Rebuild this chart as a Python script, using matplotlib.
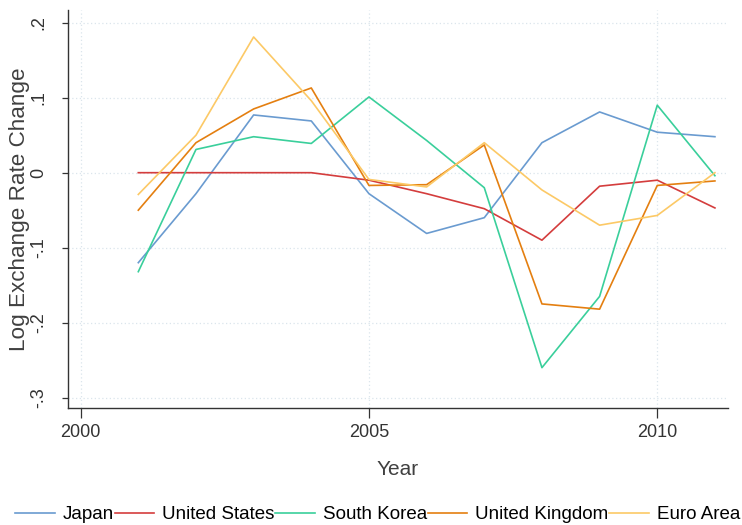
import matplotlib.pyplot as plt

plt.rcParams['font.family'] = ['Liberation Sans', 'DejaVu Sans']

years = list(range(2001, 2012))

japan = [-0.120, -0.028, 0.077, 0.069, -0.028, -0.081, -0.060, 0.040, 0.081, 0.054, 0.048]
united_states = [0.000, 0.000, 0.000, 0.000, -0.010, -0.028, -0.048, -0.090, -0.018, -0.010, -0.047]
south_korea = [-0.132, 0.031, 0.048, 0.039, 0.101, 0.043, -0.020, -0.260, -0.165, 0.090, -0.004]
united_kingdom = [-0.050, 0.040, 0.085, 0.113, -0.017, -0.016, 0.037, -0.175, -0.182, -0.017, -0.011]
euro_area = [-0.029, 0.050, 0.181, 0.096, -0.009, -0.019, 0.040, -0.023, -0.070, -0.057, 0.000]

series = [
    ('Japan', japan, '#6a9bd0'),
    ('United States', united_states, '#d43d3d'),
    ('South Korea', south_korea, '#3acf9b'),
    ('United Kingdom', united_kingdom, '#e47f10'),
    ('Euro Area', euro_area, '#fcc966'),
]

x_ticks = [2000, 2005, 2010]
y_ticks = [-0.3, -0.2, -0.1, 0, 0.1, 0.2]
y_tick_labels = ['-.3', '-.2', '-.1', '0', '.1', '.2']

fig = plt.figure(figsize=(7.42, 5.25), dpi=100)
ax = fig.add_axes([0.0916, 0.222, 0.889, 0.759])

for name, vals, color in series:
    ax.plot(years, vals, color=color, lw=1.2, label=name)

ax.set_xlim(1999.78, 2011.22)
ax.set_ylim(-0.3144, 0.217)

ax.set_xticks(x_ticks)
ax.set_yticks(y_ticks)
ax.set_yticklabels(y_tick_labels, rotation=90, va='center')

# light dotted grid at every major tick
grid_col = '#dbe5ec'
for yv in y_ticks:
    ax.axhline(yv, color=grid_col, lw=0.9, ls=(0, (1, 2)), zorder=0)
for xv in x_ticks:
    ax.axvline(xv, color=grid_col, lw=0.9, ls=(0, (1, 2)), zorder=0)

for s in ['top', 'right']:
    ax.spines[s].set_visible(False)
for s in ['left', 'bottom']:
    ax.spines[s].set_color('#333333')
    ax.spines[s].set_linewidth(1.0)

ax.tick_params(axis='y', length=4, width=0.9, pad=11, labelsize=13, colors='#333333')
ax.tick_params(axis='x', length=7, width=0.9, pad=4, labelsize=13, colors='#333333')

ax.set_xlabel('Year', fontsize=15, color='#404040', labelpad=14)
ax.set_ylabel('Log Exchange Rate Change', fontsize=16.2, color='#404040', labelpad=0)

fig.legend(loc='center', bbox_to_anchor=(0.509, 0.02), ncol=5, frameon=False,
           fontsize=13.5, handlelength=2.1, handletextpad=0.42, columnspacing=0.05)

fig.savefig('out.png', dpi=100)
